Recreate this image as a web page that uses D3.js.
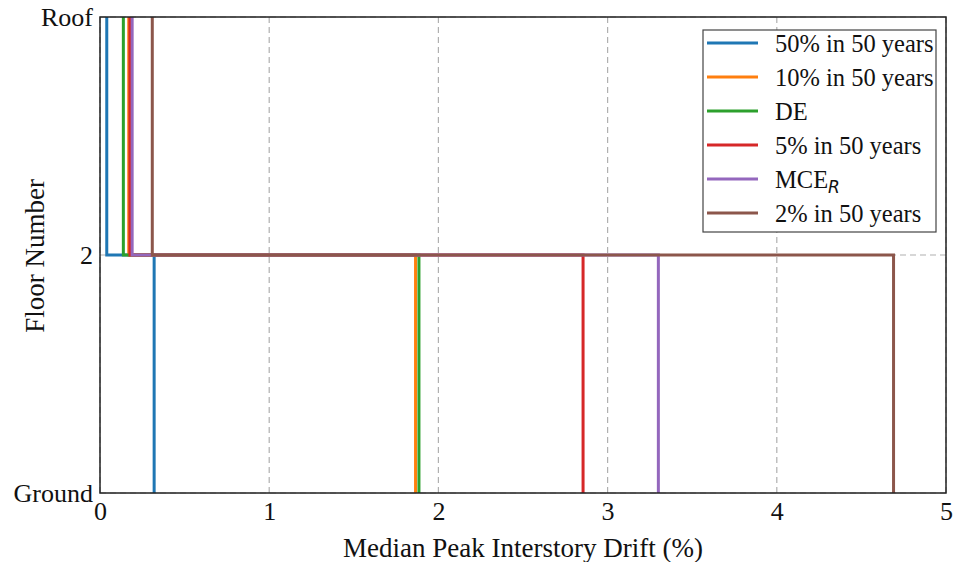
<!DOCTYPE html>
<html>
<head>
<meta charset="utf-8">
<script src="https://cdn.jsdelivr.net/npm/d3@7"></script>
<style>
  body { margin: 0; background: #fff; }
  text { font-family: "Liberation Serif", "Times New Roman", serif; }
</style>
</head>
<body>
<svg width="953" height="562"></svg>
<script>
// floor levels: 0 = Ground, 1 = 2, 2 = Roof
var floorLabels = ["Ground", "2", "Roof"];
var seriesNames = ["50% in 50 years", "10% in 50 years", "DE", "5% in 50 years", "MCE", "2% in 50 years"];
var seriesColors = ["#1f77b4", "#ff7f0e", "#2ca02c", "#d62728", "#9467bd", "#8c564b"];
// drift of story 1 (ground -> 2) and story 2 (2 -> roof), in %
var story1Drift = [0.32, 1.865, 1.885, 2.855, 3.30, 4.69];
var story2Drift = [0.04, 0.17, 0.138, 0.177, 0.19, 0.309];
var xTicks = [0, 1, 2, 3, 4, 5];

var svg = d3.select("svg");
var pLeft = 100, pRight = 946, pTop = 17, pBottom = 493;

var x = d3.scaleLinear().domain([0, 5]).range([pLeft, pRight]);
var y = d3.scaleLinear().domain([0, 2]).range([pBottom, pTop]);

// grid
var grid = svg.append("g");
grid.selectAll("line.vg")
    .data(xTicks)
    .enter()
    .append("line")
    .attr("x1", function (d) { return x(d); })
    .attr("x2", function (d) { return x(d); })
    .attr("y1", pTop)
    .attr("y2", pBottom)
    .style("stroke", "#b0b0b0")
    .style("stroke-width", 1.2)
    .style("stroke-dasharray", "6,4");
grid.selectAll("line.hg")
    .data([0, 1, 2])
    .enter()
    .append("line")
    .attr("x1", pLeft)
    .attr("x2", pRight)
    .attr("y1", function (d) { return y(d); })
    .attr("y2", function (d) { return y(d); })
    .style("stroke", "#b0b0b0")
    .style("stroke-width", 1.2)
    .style("stroke-dasharray", "6,4");

// step profiles
var line = d3.line()
    .x(function (d) { return x(d[0]); })
    .y(function (d) { return y(d[1]); });

var profiles = seriesNames.map(function (name, i) {
    return [[story1Drift[i], 0], [story1Drift[i], 1], [story2Drift[i], 1], [story2Drift[i], 2]];
});

svg.append("g").selectAll("path")
    .data(profiles)
    .enter()
    .append("path")
    .attr("d", line)
    .style("fill", "none")
    .style("stroke", function (d, i) { return seriesColors[i]; })
    .style("stroke-width", 3);

// frame
svg.append("rect")
    .attr("x", pLeft)
    .attr("y", pTop)
    .attr("width", pRight - pLeft)
    .attr("height", pBottom - pTop)
    .style("fill", "none")
    .style("stroke", "#222")
    .style("stroke-width", 1.5);

// axes
var xAxis = d3.axisBottom(x).tickValues(xTicks).tickSize(0).tickPadding(9)
    .tickFormat(d3.format("d"));
var gx = svg.append("g").attr("transform", "translate(0," + pBottom + ")").call(xAxis);
gx.select(".domain").remove();
gx.selectAll("text").style("font-size", "26px").style("fill", "#111")
    .style("font-family", "Liberation Serif, serif");

var yAxis = d3.axisLeft(y).tickValues([0, 1, 2]).tickSize(0).tickPadding(7)
    .tickFormat(function (d) { return floorLabels[d]; });
var gy = svg.append("g").attr("transform", "translate(" + pLeft + ",0)").call(yAxis);
gy.select(".domain").remove();
gy.selectAll("text").style("font-size", "26px").style("fill", "#111")
    .style("font-family", "Liberation Serif, serif");

svg.append("text")
    .attr("x", (pLeft + pRight) / 2)
    .attr("y", 557)
    .attr("text-anchor", "middle")
    .style("font-size", "27px")
    .style("fill", "#111")
    .text("Median Peak Interstory Drift (%)");

svg.append("text")
    .attr("transform", "translate(44,256) rotate(-90)")
    .attr("text-anchor", "middle")
    .style("font-size", "27px")
    .style("fill", "#111")
    .text("Floor Number");

// legend
var legend = svg.append("g");
legend.append("rect")
    .attr("x", 703)
    .attr("y", 30)
    .attr("width", 233)
    .attr("height", 202)
    .style("fill", "#fff")
    .style("stroke", "#444")
    .style("stroke-width", 1.2);

var rows = legend.selectAll("g.row")
    .data(seriesNames)
    .enter()
    .append("g")
    .attr("transform", function (d, i) { return "translate(0," + (43 + i * 34) + ")"; });
rows.append("line")
    .attr("x1", 707).attr("x2", 758)
    .attr("y1", 0).attr("y2", 0)
    .style("stroke", function (d, i) { return seriesColors[i]; })
    .style("stroke-width", 3);
var labels = rows.append("text")
    .attr("x", 775)
    .attr("y", 9)
    .style("font-size", "24.5px")
    .style("fill", "#111");
labels.text(function (d) { return d; });
labels.filter(function (d) { return d === "MCE"; })
    .append("tspan")
    .attr("dy", 5)
    .style("font-family", "DejaVu Sans, sans-serif")
    .style("font-style", "italic")
    .style("font-size", "17px")
    .text("R");
</script>
</body>
</html>
